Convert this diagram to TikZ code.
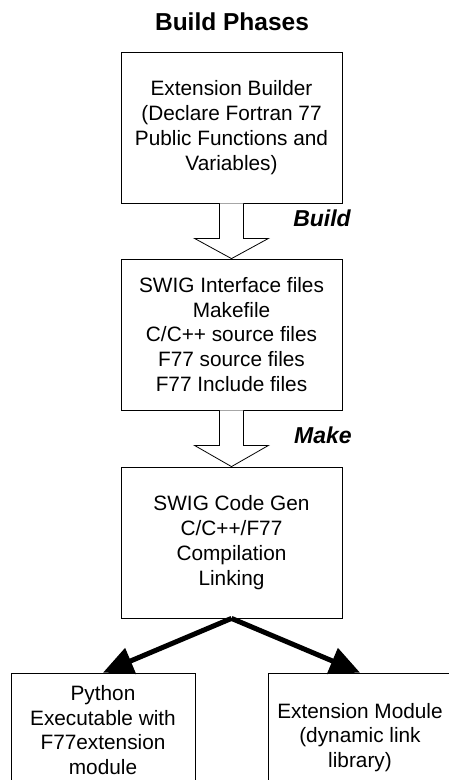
\documentclass[tikz,border=0pt]{standalone}
\usepackage{fontspec}
\setmainfont{Liberation Sans}
\usetikzlibrary{arrows.meta,calc}
\tikzset{
  box/.style={draw=black, line width=0.8pt, align=center, inner sep=0pt,
    font=\fontsize{20.8}{24.8}\selectfont},
  hollow/.style={draw=black, line width=0.8pt, fill=white, line join=miter},
  fat/.style={draw=black, line width=5pt, -{Triangle[length=30pt,width=27pt]}},
  phase/.style={font=\fontsize{23}{27}\selectfont\bfseries\itshape},
}
\begin{document}
\begin{tikzpicture}[x=1pt,y=-1pt]
\useasboundingbox (0,0) rectangle (449,780);
\clip (0,0) rectangle (449,780);
\node[font=\fontsize{24.5}{28}\selectfont\bfseries] (title) at (232,22) {Build Phases};
\node[box, minimum width=221pt, minimum height=151pt] (b1) at (231.5,127.5)
  {Extension Builder\\(Declare Fortran 77\\Public Functions and\\Variables)};
\node[box, minimum width=221pt, minimum height=151pt] (b2) at (231.5,334.5)
  {SWIG Interface files\\Makefile\\C/C++ source files\\F77 source files\\F77 Include files};
\node[box, minimum width=221pt, minimum height=151pt] (b3) at (231.5,542.5)
  {SWIG Code Gen\\C/C++/F77\\Compilation\\Linking};
\node[box, minimum width=184pt, minimum height=114pt] (py) at (103,730)
  {Python\\Executable with\\F77extension\\module};
\node[box, minimum width=184pt, minimum height=129pt] (ext) at (360,737.5)
  {Extension Module\\(dynamic link\\library)};
\draw[hollow] (b1.south) ++(-12,0) -- ++(0,35) -- ++(-25,0) -- (b2.north)
  -- ($(b1.south)+(37,35)$) -- ++(-25,0) -- ++(0,-35);
\draw[hollow] (b2.south) ++(-12,0) -- ++(0,35) -- ++(-25,0) -- (b3.north)
  -- ($(b2.south)+(37,35)$) -- ++(-25,0) -- ++(0,-35);
\node[phase] (build) at (322,218) {Build};
\node[phase] (make) at (323,435) {Make};
\draw[fat] (b3.south) -- (py.north);
\draw[fat] (b3.south) -- (ext.north);
\end{tikzpicture}
\end{document}
